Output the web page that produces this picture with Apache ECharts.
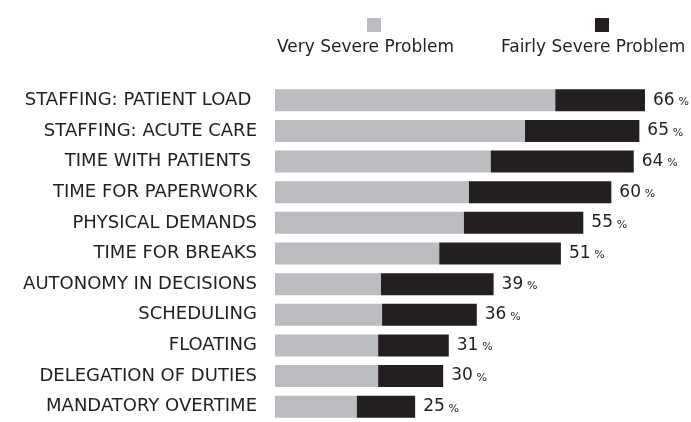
<!DOCTYPE html>
<html>
<head>
<meta charset="utf-8">
<script src="https://cdn.jsdelivr.net/npm/echarts@6/dist/echarts.min.js"></script>
<style>
  html, body { margin: 0; padding: 0; background: #fff; }
  #chart { width: 691px; height: 422px; }
</style>
</head>
<body>
<div id="chart"></div>
<script>
// categories top to bottom
const categories = [
  'STAFFING: PATIENT LOAD ',
  'STAFFING: ACUTE CARE',
  'TIME WITH PATIENTS ',
  'TIME FOR PAPERWORK',
  'PHYSICAL DEMANDS',
  'TIME FOR BREAKS',
  'AUTONOMY IN DECISIONS',
  'SCHEDULING',
  'FLOATING',
  'DELEGATION OF DUTIES',
  'MANDATORY OVERTIME'
]
const verySevere = [50, 44.6, 38.5, 34.6, 33.7, 29.3, 18.9, 19.1, 18.4, 18.4, 14.6]
const fairlySevere = [16, 20.4, 25.5, 25.4, 21.3, 21.7, 20.1, 16.9, 12.6, 11.6, 10.4]
const totals = [66, 65, 64, 60, 55, 51, 39, 36, 31, 30, 25]

const FONT = 'DejaVu Sans'
const GREY = '#bcbdc0'
const DARK = '#231f20'

const chart = echarts.init(document.getElementById('chart'))

const option = {
  animation: false,
  textStyle: { fontFamily: FONT },
  grid: { left: 275, top: 85, width: 392.4, height: 339 },
  legend: [{
    data: ['Very Severe Problem'],
    left: 362, top: 13,
    icon: 'rect', itemWidth: 14, itemHeight: 14,
    formatter: () => '',
    selectedMode: false
  }, {
    data: ['Fairly Severe Problem'],
    left: 590, top: 13,
    icon: 'rect', itemWidth: 14, itemHeight: 14,
    formatter: () => '',
    selectedMode: false
  }],
  graphic: [{
    type: 'text', left: 277, top: 39,
    style: { text: 'Very Severe Problem', font: '17px ' + FONT, fill: DARK }
  }, {
    type: 'text', left: 501, top: 39,
    style: { text: 'Fairly Severe Problem', font: '17px ' + FONT, fill: DARK }
  }],
  xAxis: {
    type: 'value', min: 0, max: 70,
    show: false
  },
  yAxis: {
    type: 'category',
    data: categories,
    inverse: true,
    axisLine: { show: false },
    axisTick: { show: false },
    axisLabel: { color: DARK, fontSize: 18, fontFamily: FONT, margin: 18 }
  },
  series: [{
    name: 'Very Severe Problem',
    type: 'bar', stack: 'all',
    barWidth: 22,
    itemStyle: { color: GREY },
    data: verySevere
  }, {
    name: 'Fairly Severe Problem',
    type: 'bar', stack: 'all',
    barWidth: 22,
    itemStyle: { color: DARK },
    data: fairlySevere,
    label: {
      show: true, position: 'right', distance: 8,
      formatter: p => '{n|' + totals[p.dataIndex] + '} {p|%}',
      rich: {
        n: { fontSize: 17, color: DARK, fontFamily: FONT },
        p: { fontSize: 11, color: DARK, fontFamily: FONT, padding: [4, 0, 0, 0] }
      }
    }
  }]
}

chart.setOption(option)
</script>
</body>
</html>
